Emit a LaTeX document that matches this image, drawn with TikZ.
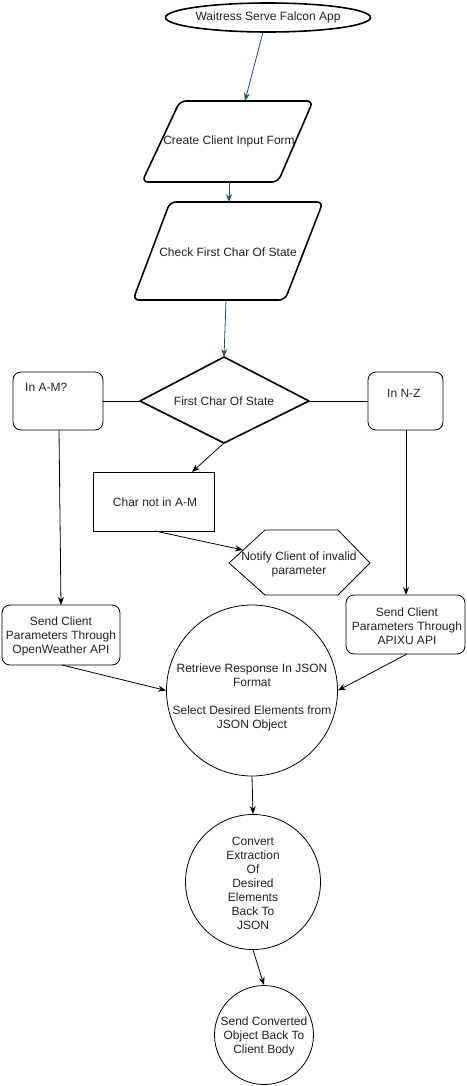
\documentclass[tikz,border=0pt]{standalone}
\usepackage{fontspec}
\setmainfont{Liberation Sans}
\usetikzlibrary{arrows.meta,shapes.geometric}
\definecolor{edgeblue}{HTML}{1F4E79}
\definecolor{txt}{HTML}{222222}
\begin{document}
\begin{tikzpicture}[x=1pt,y=-1pt,
  every node/.style={font=\fontsize{12}{14}\selectfont, text=txt, inner sep=0pt},
  thickline/.style={draw=black, line width=1.6pt, line join=round},
  thinbox/.style={draw=black, line width=0.8pt, rounded corners=8pt, inner sep=0pt},
  plainbox/.style={draw=black, line width=0.8pt, inner sep=0pt},
  bluearrow/.style={draw=edgeblue, line width=0.8pt, -{Stealth[length=8pt,width=6pt]}},
  blackarrow/.style={draw=black, line width=0.8pt, -{Stealth[length=8pt,width=6pt]}},
  plainline/.style={draw=black, line width=0.8pt},
  circ/.style={draw=black, line width=0.8pt, circle, inner sep=0pt},
  lbl/.style={align=center}
]
\useasboundingbox (0,0) rectangle (466,1086);

% start ellipse
\node[ellipse, draw=black, line width=1.6pt, minimum width=170pt, minimum height=29pt] (start) at (268,17.5) {Waitress Serve Falcon App};

% parallelogram 1
\draw[thickline, rounded corners=6pt] (180,101) -- (313,101) -- (278,182) -- (142,182) -- cycle;
\node[lbl] (form) at (229,141) {Create Client Input Form};
\coordinate (formtop) at (245,101);
\coordinate (formbot) at (229,182);

% parallelogram 2
\draw[thickline, rounded corners=6pt] (170,202) -- (323,202) -- (285,300) -- (133,300) -- cycle;
\node[lbl] (check) at (228,252) {Check First Char Of State};
\coordinate (checktop) at (229,202);
\coordinate (checkbot) at (226,300);

% diamond
\draw[thickline] (224,357) -- (309,401) -- (224,443) -- (140,401) -- cycle;
\node[lbl] (dia) at (224,401) {First Char Of State};
\coordinate (diatop) at (224,357);
\coordinate (diawest) at (140,401);
\coordinate (diaeast) at (309,401);
\coordinate (diasouth) at (224,443);

% In A-M box
\node[thinbox, minimum width=90pt, minimum height=58pt] (am) at (58,401) {};
\node[anchor=west] (amtext) at (25,387) {In A-M?};
\coordinate (ambot) at (59,430);

% In N-Z box
\node[thinbox, minimum width=75pt, minimum height=58pt] (nz) at (405.5,401) {};
\node[anchor=west] (nztext) at (387,393) {In N-Z};
\coordinate (nzbot) at (406,430);

% Char not in A-M
\node[plainbox, minimum width=121pt, minimum height=59pt] (cn) at (153.5,501.5) {};
\node[lbl] (cntext) at (155,502) {Char not in A-M};
\coordinate (cntop) at (192,472);
\coordinate (cnbot) at (155,531);

% hexagon
\draw[line width=0.8pt, line join=round] (229,563) -- (265,530) -- (338,530) -- (370,563) -- (338,595) -- (265,595) -- cycle;
\node[lbl] (hex) at (299,564) {Notify Client of invalid\\parameter};
\coordinate (hexin) at (243,550);

% OpenWeather box
\node[thinbox, minimum width=118pt, minimum height=60pt] (ow) at (61,635) {};
\node[lbl] (owtext) at (61,636) {Send Client\\Parameters Through\\OpenWeather API};
\coordinate (owtop) at (61,605);
\coordinate (owbot) at (62,665);

% APIXU box
\node[thinbox, minimum width=119pt, minimum height=59pt] (ax) at (405.5,624.5) {};
\node[lbl] (axtext) at (407,626) {Send Client\\Parameters Through\\APIXU API};
\coordinate (axtop) at (406,595);
\coordinate (axbot) at (407,654);

% circle 1
\node[circ, minimum size=171pt] (c1) at (252,690.5) {};
\node[lbl] (c1text) at (252,697) {Retrieve Response In JSON\\Format\\[14pt]Select Desired Elements from\\JSON Object};

% circle 2
\node[circ, minimum size=135pt] (c2) at (253,882) {};
\node[lbl] (c2text) at (253,883) {Convert\\Extraction\\Of\\Desired\\Elements\\Back To\\JSON};

% circle 3
\node[circ, minimum size=99pt] (c3) at (264,1035) {};
\node[lbl] (c3text) at (264,1036) {Send Converted\\Object Back To\\Client Body};

% connectors
\draw[bluearrow] (263,32) -- (formtop);
\draw[bluearrow] (formbot) -- (checktop);
\draw[bluearrow] (checkbot) -- (diatop);
\draw[plainline] (diawest) -- (am.east |- diawest);
\draw[plainline] (diaeast) -- (nz.west |- diaeast);
\draw[blackarrow] (ambot) -- (owtop);
\draw[blackarrow] (nzbot) -- (axtop);
\draw[blackarrow] (diasouth) -- (cntop);
\draw[blackarrow] (cnbot) -- (hexin);
\draw[blackarrow] (owbot) -- (c1.west);
\draw[blackarrow] (axbot) -- (c1.east);
\draw[blackarrow] (c1.south) -- (c2.north);
\draw[blackarrow] (c2.south) -- (c3.north);
\end{tikzpicture}
\end{document}
